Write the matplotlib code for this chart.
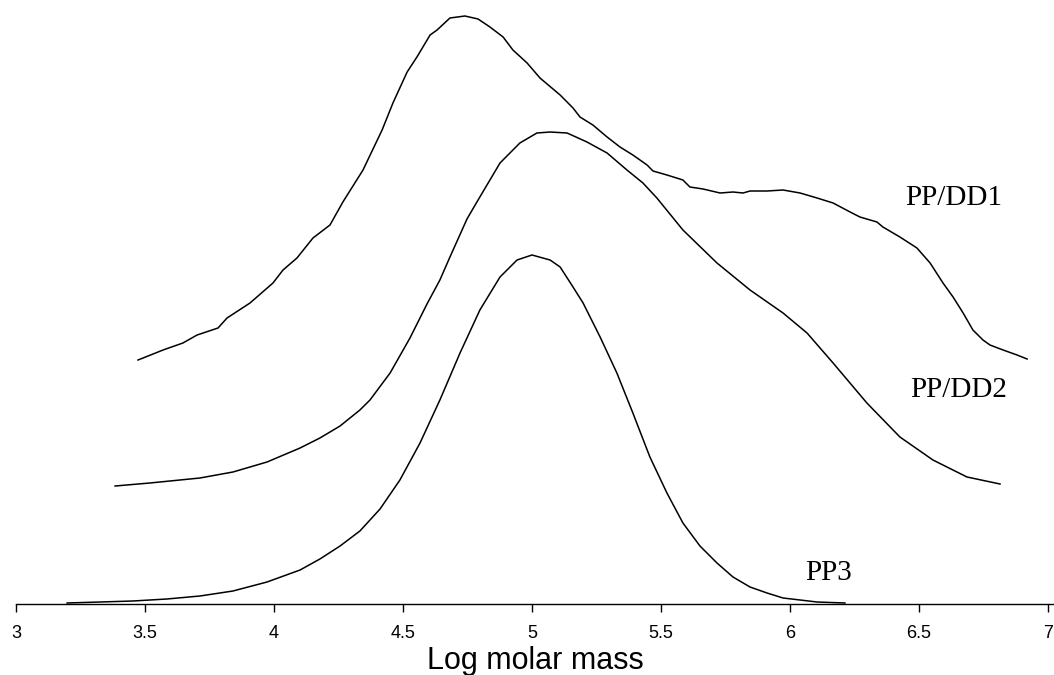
import matplotlib
matplotlib.use("Agg")
import matplotlib.pyplot as plt

# log molar mass vs detector response (arbitrary units, stacked traces)
pp3_x = [3.198, 3.453, 3.585, 3.713, 3.841, 3.973, 4.101, 4.178, 4.256, 4.333,
         4.411, 4.488, 4.566, 4.643, 4.721, 4.798, 4.876, 4.942, 5.000, 5.070,
         5.109, 5.159, 5.198, 5.264, 5.329, 5.391, 5.457, 5.523, 5.585, 5.651,
         5.717, 5.779, 5.845, 5.911, 5.973, 6.039, 6.105, 6.213]
pp3_y = [1, 3, 5, 8, 13, 22, 34, 45, 58, 73,
         95, 124, 161, 204, 251, 294, 327, 344, 349, 344,
         337, 317, 301, 267, 231, 191, 147, 111, 81, 58,
         41, 27, 17, 11, 6, 4, 2, 1]

dd2_x = [3.384, 3.519, 3.713, 3.841, 3.973, 4.101, 4.178, 4.256, 4.333, 4.372,
         4.450, 4.527, 4.593, 4.643, 4.682, 4.748, 4.791, 4.876, 4.953, 5.019,
         5.070, 5.136, 5.213, 5.291, 5.368, 5.430, 5.484, 5.585, 5.717, 5.845,
         5.973, 6.066, 6.167, 6.298, 6.426, 6.554, 6.686, 6.814]
dd2_y = [118, 121, 126, 132, 142, 156, 166, 178, 194, 204,
         231, 266, 300, 324, 347, 385, 404, 441, 461, 471,
         472, 471, 462, 451, 434, 421, 406, 374, 341, 314,
         291, 271, 241, 201, 167, 144, 127, 120]

dd1_x = [3.473, 3.570, 3.647, 3.702, 3.783, 3.818, 3.907, 3.996, 4.035, 4.089,
         4.151, 4.217, 4.267, 4.345, 4.419, 4.461, 4.516, 4.554, 4.605, 4.632,
         4.682, 4.740, 4.791, 4.837, 4.888, 4.926, 4.981, 5.031, 5.109, 5.159,
         5.186, 5.236, 5.291, 5.341, 5.391, 5.446, 5.469, 5.523, 5.585, 5.612,
         5.663, 5.729, 5.779, 5.818, 5.845, 5.911, 5.973, 6.039, 6.105, 6.167,
         6.233, 6.271, 6.337, 6.360, 6.426, 6.492, 6.543, 6.593, 6.632, 6.671,
         6.709, 6.748, 6.775, 6.826, 6.880, 6.919]
dd1_y = [244, 254, 261, 269, 276, 286, 301, 321, 334, 346,
         366, 379, 402, 434, 474, 501, 532, 547, 569, 574,
         586, 588, 585, 577, 567, 554, 541, 526, 509, 496,
         487, 479, 467, 457, 449, 439, 433, 429, 424, 417,
         415, 411, 412, 411, 413, 413, 414, 411, 406, 401,
         392, 387, 382, 377, 367, 356, 341, 321, 307, 291,
         274, 264, 259, 254, 249, 245]

labels = ["PP/DD1", "PP/DD2", "PP3"]
label_x = [6.446, 6.465, 6.058]
label_y = [399, 207, 24]

xticks = [3, 3.5, 4, 4.5, 5, 5.5, 6, 6.5, 7]

fig = plt.figure(figsize=(10.54, 6.75), dpi=100)
ax = fig.add_axes([16 / 1054, 71 / 675, 1 - 16 / 1054, 1 - 71 / 675])

for xs, ys in [(pp3_x, pp3_y), (dd2_x, dd2_y), (dd1_x, dd1_y)]:
    ax.plot(xs, ys, color="black", lw=1.1)

for t, x, y in zip(labels, label_x, label_y):
    ax.text(x, y, t, fontsize=21, family="Liberation Serif", ha="left", va="baseline")

ax.set_xlim(3, 3 + (1054 - 16) / 258)
ax.set_ylim(0, 604)
ax.set_xticks(xticks)
ax.set_xticklabels([f"{v:g}" for v in xticks], family="Liberation Sans", fontsize=13)
ax.set_yticks([])
for s in ["left", "top", "right"]:
    ax.spines[s].set_visible(False)
ax.spines["bottom"].set_linewidth(1.0)
ax.tick_params(axis="x", direction="out", length=6, width=1, pad=9)
ax.set_xlabel("Log molar mass", family="Liberation Sans", fontsize=22, labelpad=3)

fig.savefig("out.png", dpi=100)
